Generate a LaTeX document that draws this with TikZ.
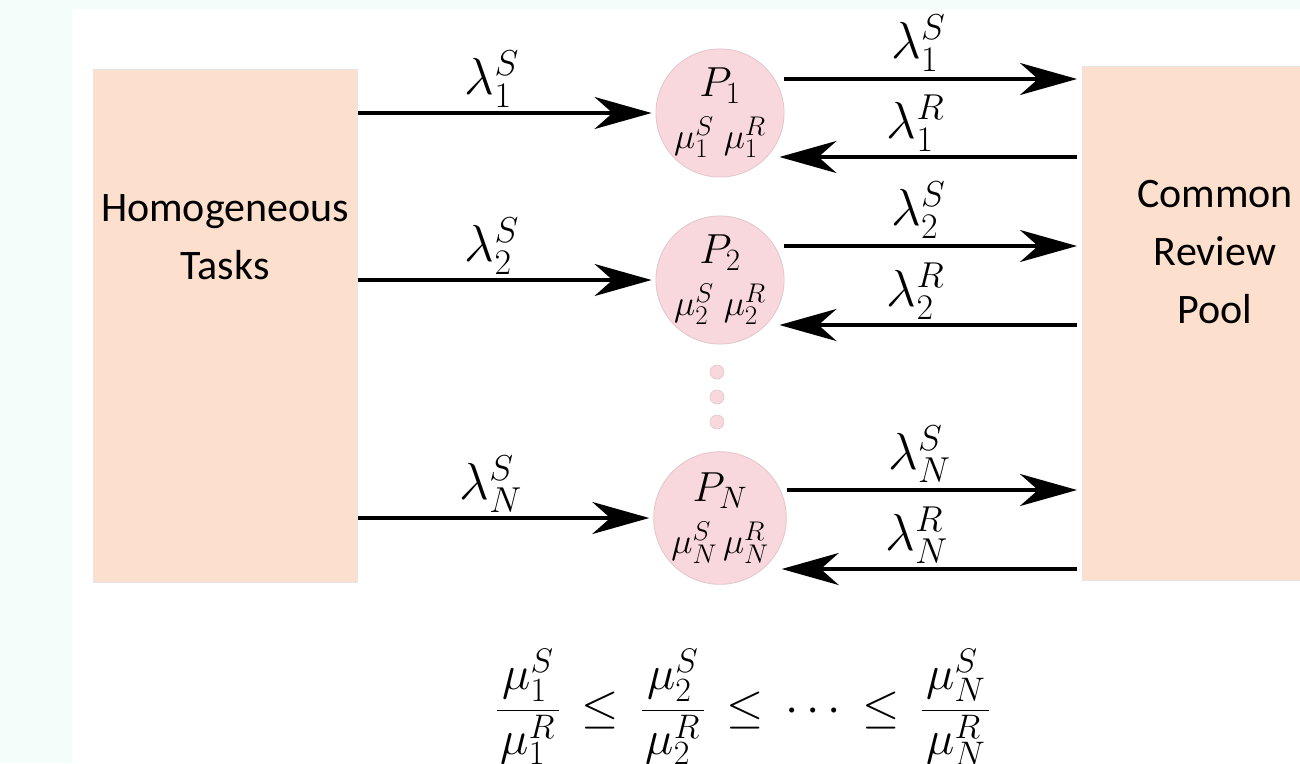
\RequirePackage{fix-cm}
\documentclass[tikz,border=0pt]{standalone}
\usepackage{amsmath}
\usepackage{fontspec}
\setsansfont{Carlito}
\usetikzlibrary{positioning,arrows.meta,calc}

\DeclareMathSizes{52}{52}{36}{26}
\DeclareMathSizes{48}{48}{34}{25}
\DeclareMathSizes{42}{42}{31}{23}
\DeclareMathSizes{36}{36}{27}{20}

\newcommand{\rateratio}[1]{\dfrac{\mkern1.5mu\mu_{#1}^S\mkern1.5mu}{\mkern1.5mu\mu_{#1}^R\mkern1.5mu}}
\newcommand{\wle}{\mathrel{\mkern3mu\le\mkern3mu}}

\definecolor{bgmint}{HTML}{F3FDF9}
\definecolor{peach}{HTML}{FCDFCC}
\definecolor{procpink}{HTML}{F9D8DD}
\definecolor{procedge}{HTML}{E2C6CA}

\tikzset{
  block/.style={fill=peach,draw=black!10,line width=0.8pt,inner sep=0pt},
  blocktext/.style={font=\sffamily\fontsize{42}{58}\selectfont,align=center},
  proc/.style={circle,fill=procpink,draw=procedge,line width=0.8pt,
    minimum size=126pt,inner sep=0pt,align=center,font=\fontsize{42}{46}\selectfont},
  flow/.style={line width=3.8pt,-{Stealth[length=57pt,width=32pt,inset=18pt]}},
  rate/.style={font=\fontsize{52}{52}\selectfont,inner sep=1pt},
  dot/.style={circle,fill=procpink,draw=procedge,line width=0.6pt,minimum size=14pt,inner sep=0pt}
}

\begin{document}
\begin{tikzpicture}[x=1pt,y=-1pt]
  \clip (0,0) rectangle (1300,763);
  \fill[bgmint] (0,0) rectangle (1300,763);
  \fill[white] (72,9) rectangle (1300,763);

  % the two pools
  \node[block,anchor=north west,minimum width=264pt,minimum height=513pt] (tasks) at (93,69) {};
  \node[blocktext] (taskstxt) at (225,237) {Homogeneous\\Tasks};
  \node[block,anchor=north west,minimum width=266pt,minimum height=514pt] (pool) at (1082,66) {};
  \node[blocktext] (pooltxt) at (1215,252) {Common\\Review\\Pool};

  % processors
  \node[proc] (p1) at (720,113) {$P_1$\\[6pt]{\fontsize{36}{36}\selectfont$\mu_1^S\;\mu_1^R$}};
  \node[proc] (p2) at (720,280) {$P_2$\\[6pt]{\fontsize{36}{36}\selectfont$\mu_2^S\;\mu_2^R$}};
  \node[proc] (pN) at (720,518) {$P_N$\\[6pt]{\fontsize{36}{36}\selectfont$\mu_N^S\,\mu_N^R$}};
  \node[dot] (d1) at (717,372) {};
  \node[dot] (d2) at (717,397) {};
  \node[dot] (d3) at (717,422) {};

  % arrivals
  \draw[flow,shorten >=4pt] (tasks.east |- p1) -- (p1.west) node[rate,above=3pt,pos=0.45] (a1) {$\lambda_1^S$};
  \draw[flow,shorten >=4pt] (tasks.east |- p2) -- (p2.west) node[rate,above=3pt,pos=0.45] (a2) {$\lambda_2^S$};
  \draw[flow,shorten >=4pt] (tasks.east |- pN) -- (pN.west) node[rate,above=3pt,pos=0.45] (aN) {$\lambda_N^S$};

  % submissions to the pool
  \draw[flow,shorten >=5pt] ($(p1.east)+(0,-34)$) -- ($(pool.west |- p1)+(0,-34)$) node[rate,above=5pt,pos=0.45] (s1) {$\lambda_1^S$};
  \draw[flow,shorten >=5pt] ($(p2.east)+(0,-34)$) -- ($(pool.west |- p2)+(0,-34)$) node[rate,above=5pt,pos=0.45] (s2) {$\lambda_2^S$};
  \draw[flow,shorten >=5pt] ($(pN.east)+(0,-28)$) -- ($(pool.west |- pN)+(0,-28)$) node[rate,above=5pt,pos=0.45] (sN) {$\lambda_N^S$};

  % reviews coming back
  \draw[flow,shorten <=5pt] ($(pool.west |- p1)+(0,44)$) -- ($(p1.east)+(-5,44)$) node[rate,above=3pt,pos=0.55] (r1) {$\lambda_1^R$};
  \draw[flow,shorten <=5pt] ($(pool.west |- p2)+(0,45)$) -- ($(p2.east)+(-5,45)$) node[rate,above=3pt,pos=0.55] (r2) {$\lambda_2^R$};
  \draw[flow,shorten <=5pt] ($(pool.west |- pN)+(0,51)$) -- ($(pN.east)+(-5,51)$) node[rate,above=3pt,pos=0.55] (rN) {$\lambda_N^R$};

  % ordering of the ratios
  \node[font=\fontsize{48}{54}\selectfont,anchor=base] (order) at (743,722)
    {$\rateratio{1}\wle\rateratio{2}\wle\cdots\wle\rateratio{N}$};
\end{tikzpicture}
\end{document}
